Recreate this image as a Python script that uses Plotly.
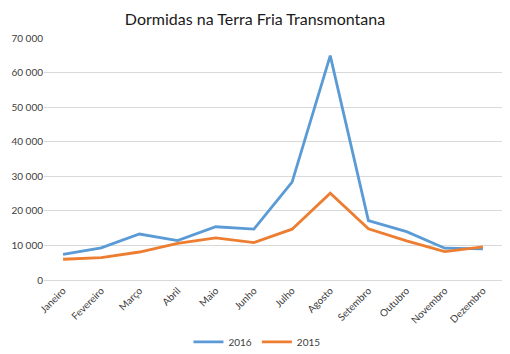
import plotly.graph_objects as go

months = ["Janeiro", "Fevereiro", "Março", "Abril", "Maio", "Junho", "Julho",
          "Agosto", "Setembro", "Outubro", "Novembro", "Dezembro"]
v2016 = [7400, 9300, 13300, 11400, 15400, 14700, 28300, 64900, 17200, 14000, 9200, 9000]
v2015 = [6000, 6500, 8100, 10600, 12200, 10800, 14700, 25100, 14800, 11300, 8200, 9600]
y_ticks = [0, 10000, 20000, 30000, 40000, 50000, 60000, 70000]

fig = go.Figure()
fig.add_trace(go.Scatter(x=months, y=v2016, name="2016", mode="lines",
                         line=dict(color="#5B9BD5", width=2.8)))
fig.add_trace(go.Scatter(x=months, y=v2015, name="2015", mode="lines",
                         line=dict(color="#ED7D31", width=2.8)))

fig.update_layout(
    width=510, height=354,
    margin=dict(l=44, r=8, t=38, b=74),
    paper_bgcolor="white", plot_bgcolor="white",
    font=dict(family="Lato, Open Sans, sans-serif", size=10, color="#404040"),
    separators=", ",
    title=dict(text="Dormidas na Terra Fria Transmontana", x=0.5, xanchor="center",
               y=0.945, yanchor="middle",
               font=dict(size=16, color="#1a1a1a")),
    showlegend=True,
    legend=dict(orientation="h", x=0.465, xanchor="center", y=0.034, yanchor="middle",
                yref="container",
                font=dict(size=10, color="#404040"), itemwidth=30),
    xaxis=dict(tickangle=-45, showgrid=False, showline=True, linecolor="#d9d9d9",
               ticks="", tickfont=dict(size=10), range=[-0.5, 11.5],
               automargin=False),
    yaxis=dict(range=[0, 70000], tickvals=y_ticks, tickformat=",d",
               showgrid=True, gridcolor="#d9d9d9", gridwidth=1, zeroline=False,
               showline=False, ticks="", tickfont=dict(size=10), automargin=False),
)

fig.write_html("out.html")
